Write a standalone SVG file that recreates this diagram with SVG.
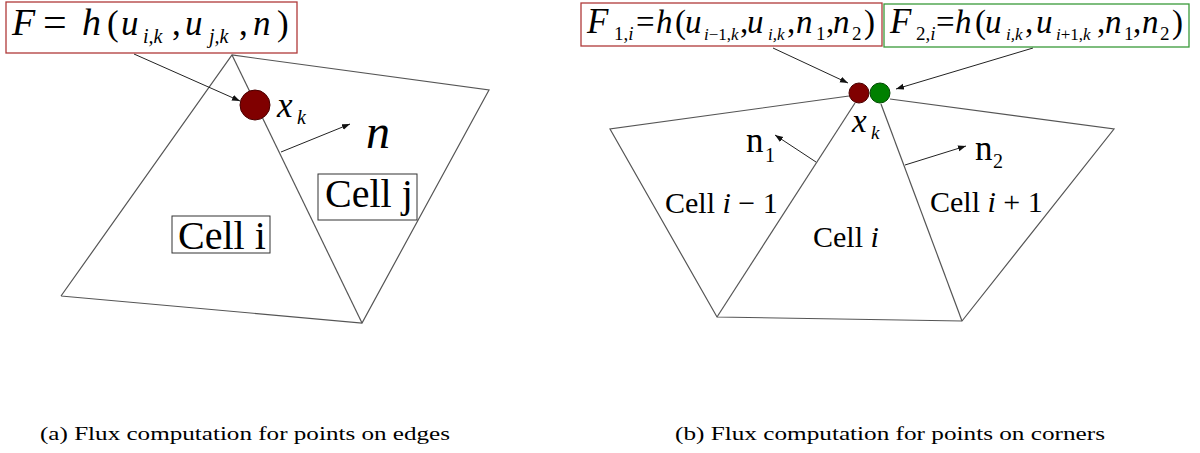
<svg xmlns="http://www.w3.org/2000/svg" width="1200" height="453" viewBox="0 0 1200 453">
<style>
.bg{fill:#fff}
.edge{stroke:#555;stroke-width:1.2;fill:none}
.arr{stroke:#222;stroke-width:1;fill:none;marker-end:url(#ah)}
text{font-family:"Liberation Serif",serif;fill:#000}
.it{font-style:italic}
.s48{font-size:48px}
.s42{font-size:42px}
.s40{font-size:40px}
.s38{font-size:38px}
.s35{font-size:35px}
.s34{font-size:34px}
.s33{font-size:33px}
.s30{font-size:30px}
.s20{font-size:20px}
.s19{font-size:19px}
.s17{font-size:17px}
.rbox{fill:#fff;stroke:#b03a3a;stroke-width:1.3}
.gbox{fill:#fff;stroke:#3a9a3a;stroke-width:1.3}
.kbox{fill:#fff;stroke:#333;stroke-width:1}
.cap{font-size:19px}
</style>
<defs>
<marker id="ah" markerUnits="userSpaceOnUse" markerWidth="9" markerHeight="7" refX="8" refY="3" orient="auto">
<path d="M0,0 L8,3 L0,6 z" fill="#111"/>
</marker>
</defs>
<rect class="bg" x="0" y="0" width="1200" height="453"/>

<g id="mesh-a">
<polyline class="edge" points="61,296 232,55 489,90 362,323 61,296"/>
<line class="edge" x1="232" y1="55" x2="362" y2="323"/>
</g>

<g id="mesh-b">
<polyline class="edge" points="849,96 610,129 717,317 962,321 1114,129 890,99"/>
<line class="edge" x1="855" y1="103" x2="717" y2="317"/>
<line class="edge" x1="881" y1="104" x2="962" y2="321"/>
</g>

<g id="connectors">
<line class="arr" x1="134" y1="54" x2="240" y2="101"/>
<line class="arr" x1="281" y1="152" x2="350" y2="124"/>
<line class="arr" x1="773" y1="48" x2="848" y2="83"/>
<line class="arr" x1="1033" y1="48" x2="896" y2="89"/>
<line class="arr" x1="816" y1="162" x2="775" y2="135"/>
<line class="arr" x1="905" y1="165" x2="966" y2="146"/>
</g>

<g id="formula-a">
<rect class="rbox" x="6" y="2" width="291" height="51"/>
<text class="s35">
<tspan class="it s38" x="12" y="35">F</tspan>
<tspan class="s42" x="43" y="36">=</tspan>
<tspan class="it s38" x="82" y="35">h</tspan>
<tspan x="107" y="35">(</tspan>
<tspan class="it" x="121" y="35">u</tspan>
<tspan class="it s20" x="143" y="43">i,k</tspan>
<tspan x="172" y="35">,</tspan>
<tspan class="it" x="185" y="35">u</tspan>
<tspan class="it s20" x="209" y="43">j,k</tspan>
<tspan x="239" y="35">,</tspan>
<tspan class="it" x="253" y="35">n</tspan>
<tspan x="277" y="35">)</tspan>
</text>
</g>

<g id="point-a">
<circle cx="255" cy="105" r="15" fill="#800000" stroke="#4a0000" stroke-width="1"/>
<text class="it s35" x="277" y="117">x</text>
<text class="it s20" x="297" y="124">k</text>
</g>

<g id="normal-a">
<text class="it s48" x="366" y="148">n</text>
</g>

<g id="cell-j">
<rect class="kbox" x="318" y="174" width="99" height="46"/>
<text class="s40" x="325" y="207">Cell j</text>
</g>

<g id="cell-i-a">
<rect class="kbox" x="172" y="216" width="98" height="37"/>
<text class="s40" x="178" y="249">Cell i</text>
</g>

<g id="formula-b1">
<rect class="rbox" x="581" y="3" width="301" height="43"/>
<text class="s33">
<tspan class="it s35" x="587" y="33">F</tspan>
<tspan class="s19" x="614" y="40">1,<tspan class="it">i</tspan></tspan>
<tspan x="636" y="33">=</tspan>
<tspan class="it" x="656" y="33">h</tspan>
<tspan x="675" y="33">(</tspan>
<tspan class="it" x="685" y="33">u</tspan>
<tspan class="s17" x="704" y="40"><tspan class="it">i</tspan>−1,<tspan class="it">k</tspan></tspan>
<tspan x="740" y="33">,</tspan>
<tspan class="it" x="747" y="33">u</tspan>
<tspan class="it s17" x="768" y="40">i,k</tspan>
<tspan x="787" y="33">,</tspan>
<tspan class="it" x="796" y="33">n</tspan>
<tspan class="s19" x="816" y="40">1</tspan>
<tspan x="826" y="33">,</tspan>
<tspan class="it" x="833" y="33">n</tspan>
<tspan class="s19" x="852" y="40">2</tspan>
<tspan x="864" y="33">)</tspan>
</text>
</g>

<g id="formula-b2">
<rect class="gbox" x="884" y="4" width="305" height="43"/>
<text class="s33">
<tspan class="it s35" x="890" y="33">F</tspan>
<tspan class="s19" x="916" y="40">2,<tspan class="it">i</tspan></tspan>
<tspan x="936" y="33">=</tspan>
<tspan class="it" x="955" y="33">h</tspan>
<tspan x="975" y="33">(</tspan>
<tspan class="it" x="985" y="33">u</tspan>
<tspan class="it s17" x="1006" y="40">i,k</tspan>
<tspan x="1025" y="33">,</tspan>
<tspan class="it" x="1036" y="33">u</tspan>
<tspan class="s17" x="1056" y="40"><tspan class="it">i</tspan>+1,<tspan class="it">k</tspan></tspan>
<tspan x="1097" y="33">,</tspan>
<tspan class="it" x="1105" y="33">n</tspan>
<tspan class="s19" x="1124" y="40">1</tspan>
<tspan x="1133" y="33">,</tspan>
<tspan class="it" x="1142" y="33">n</tspan>
<tspan class="s19" x="1160" y="40">2</tspan>
<tspan x="1172" y="33">)</tspan>
</text>
</g>

<g id="point-b">
<circle cx="859" cy="93" r="10" fill="#800000" stroke="#4a0000" stroke-width="1"/>
<circle cx="880" cy="93" r="10" fill="#008000" stroke="#004a00" stroke-width="1"/>
<text class="it s33" x="852" y="132">x</text>
<text class="it s19" x="871" y="139">k</text>
</g>

<g id="normal-n1">
<text class="s35" x="746" y="152">n</text>
<text class="s20" x="765" y="162">1</text>
</g>

<g id="normal-n2">
<text class="s35" x="975" y="160">n</text>
<text class="s20" x="993" y="168">2</text>
</g>

<g id="cell-im1">
<text class="s30" x="665" y="213">Cell <tspan class="it">i</tspan> − 1</text>
</g>
<g id="cell-i-b">
<text class="s30" x="813" y="247">Cell <tspan class="it">i</tspan></text>
</g>
<g id="cell-ip1">
<text class="s30" x="930" y="212">Cell <tspan class="it">i</tspan> + 1</text>
</g>

<g id="captions">
<text class="cap" x="40" y="440" textLength="410" lengthAdjust="spacingAndGlyphs">(a) Flux computation for points on edges</text>
<text class="cap" x="675" y="440" textLength="430" lengthAdjust="spacingAndGlyphs">(b) Flux computation for points on corners</text>
</g>
</svg>
